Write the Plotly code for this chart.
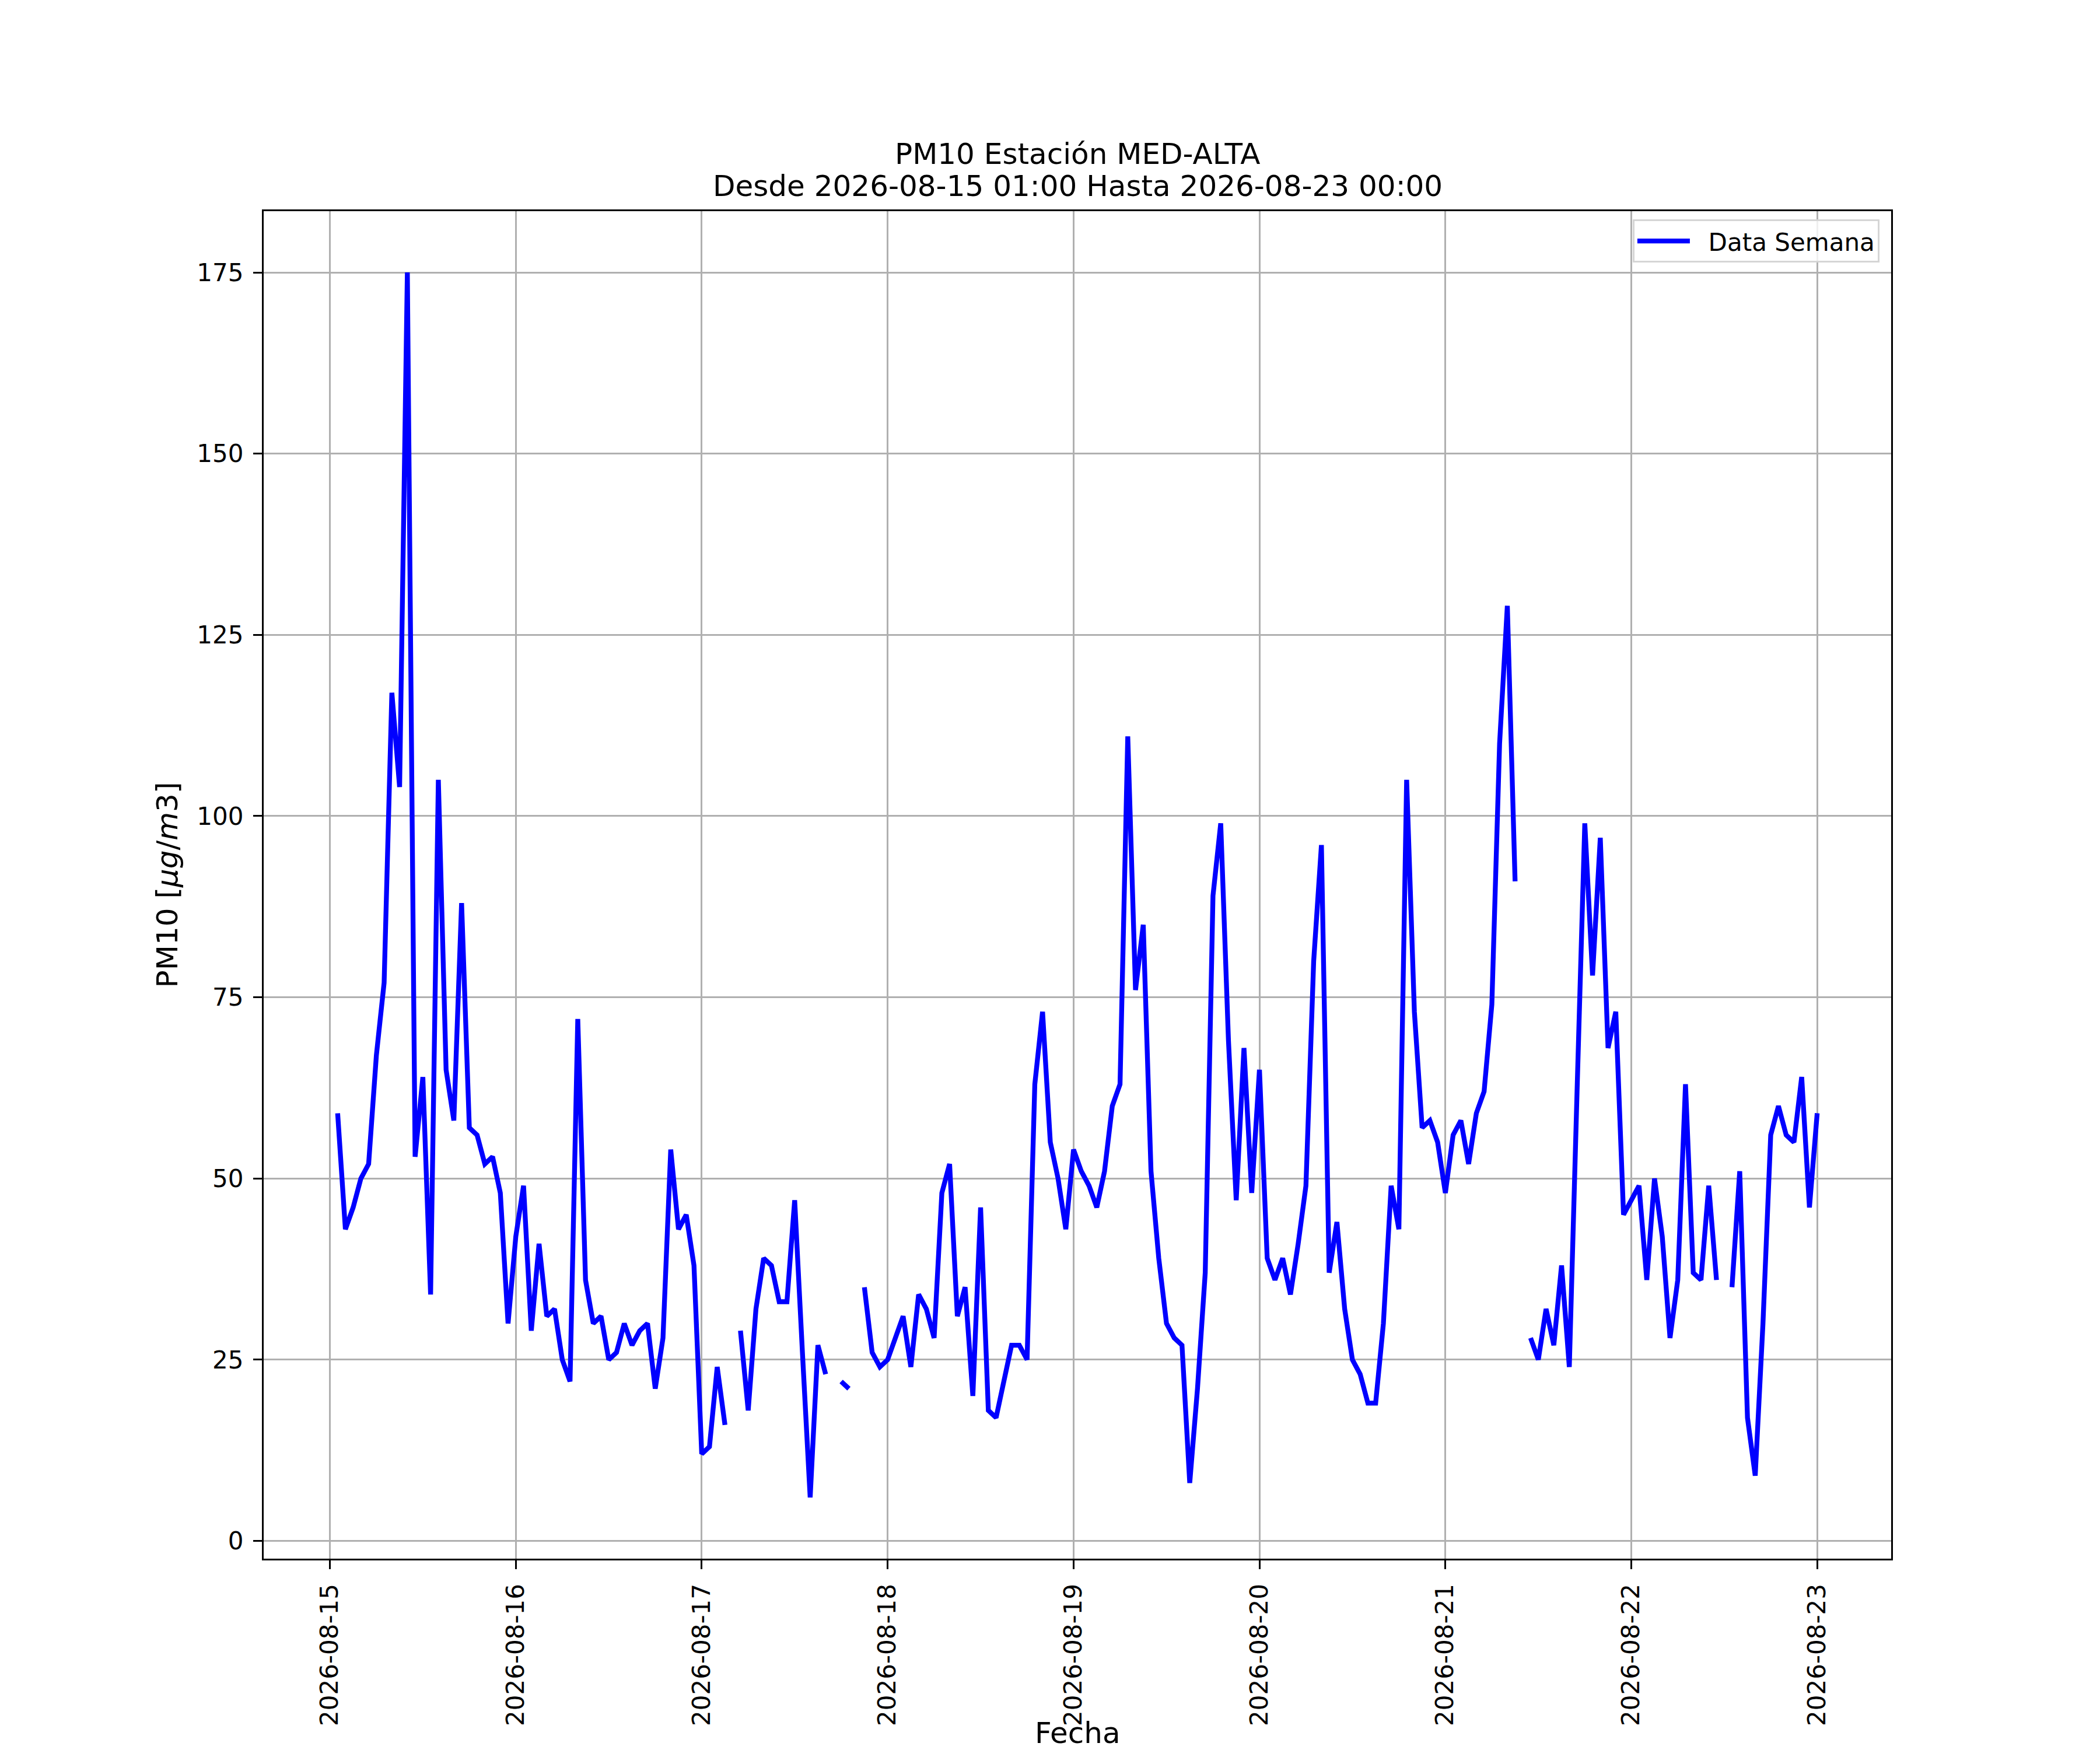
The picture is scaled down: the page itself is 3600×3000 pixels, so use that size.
import pandas as pd
import plotly.graph_objects as go

# Hourly PM10 values, 2026-08-15 01:00 .. 2026-08-23 00:00 (None = missing)
start_time = "2026-08-15 01:00"
pm10_values = [
    59, 43, 46, 50, 52, 67, 77, 117, 104, 175, 53, 64, 34, 105, 65, 58, 88, 57, 56, 52, 53, 48, 30, 42,
    49, 29, 41, 31, 32, 25, 22, 72, 36, 30, 31, 25, 26, 30, 27, 29, 30, 21, 28, 54, 43, 45, 38, 12,
    13, 24, 16, None, 29, 18, 32, 39, 38, 33, 33, 47, 26, 6, 27, 23, None, 22, 21, None, 35, 26, 24, 25,
    28, 31, 24, 34, 32, 28, 48, 52, 31, 35, 20, 46, 18, 17, 22, 27, 27, 25, 63, 73, 55, 50, 43, 54,
    51, 49, 46, 51, 60, 63, 111, 76, 85, 51, 39, 30, 28, 27, 8, 21, 37, 89, 99, 69, 47, 68, 48, 65,
    39, 36, 39, 34, 41, 49, 80, 96, 37, 44, 32, 25, 23, 19, 19, 30, 49, 43, 105, 73, 57, 58, 55, 48,
    56, 58, 52, 59, 62, 74, 110, 129, 91, None, 28, 25, 32, 27, 38, 24, 62, 99, 78, 97, 68, 73, 45, 47,
    49, 36, 50, 42, 28, 36, 63, 37, 36, 49, 36, None, 35, 51, 17, 9, 30, 56, 60, 56, 55, 64, 46, 59,
]
day_ticks = ["2026-08-15", "2026-08-16", "2026-08-17", "2026-08-18", "2026-08-19",
             "2026-08-20", "2026-08-21", "2026-08-22", "2026-08-23"]
y_ticks = [0, 25, 50, 75, 100, 125, 150, 175]
title_line1 = "PM10 Estación MED-ALTA"
title_line2 = "Desde 2026-08-15 01:00 Hasta 2026-08-23 00:00"
x_label = "Fecha"
y_label = "PM10 [<i>μg</i>/<i>m</i>3]"

times = pd.date_range(start_time, periods=len(pm10_values), freq="h")

# matplotlib-like 5% margins
t0, t1 = times[0], times[-1]
pad_t = (t1 - t0) * 0.05
xr = [(t0 - pad_t).strftime("%Y-%m-%d %H:%M:%S"), (t1 + pad_t).strftime("%Y-%m-%d %H:%M:%S")]
vals = [v for v in pm10_values if v is not None]
vmin, vmax = min(vals), max(vals)
pad_v = (vmax - vmin) * 0.05
yr = [vmin - pad_v, vmax + pad_v]

FONT = "DejaVu Sans"
W, H = 3600, 3000
L, R, T, B = 444, 366, 354, 336

fig = go.Figure()
fig.add_trace(go.Scatter(
    x=times, y=pm10_values, mode="lines", name="&nbsp;&nbsp;Data Semana",
    line=dict(color="#0000ff", width=8.3), connectgaps=False,
))

fig.update_layout(
    width=W, height=H, autosize=False,
    margin=dict(l=L, r=R, t=T, b=B),
    paper_bgcolor="white", plot_bgcolor="white",
    font=dict(family=FONT, size=42, color="black"),
    showlegend=True,
    legend=dict(
        x=0.9928, y=0.9938, xanchor="right", yanchor="top",
        bgcolor="rgba(255,255,255,0.8)", bordercolor="#d5d5d5", borderwidth=3,
        font=dict(family=FONT, size=42, color="black"),
        itemwidth=90,
    ),
    annotations=[
        dict(text=title_line1, x=0.5, xref="paper", xanchor="center",
             y=1, yref="paper", yanchor="bottom", yshift=67, showarrow=False,
             font=dict(family=FONT, size=50, color="black")),
        dict(text=title_line2, x=0.5, xref="paper", xanchor="center",
             y=1, yref="paper", yanchor="bottom", yshift=12, showarrow=False,
             font=dict(family=FONT, size=50, color="black")),
        dict(text=x_label, x=0.5, xref="paper", xanchor="center",
             y=0, yref="paper", yanchor="top", yshift=-268, showarrow=False,
             font=dict(family=FONT, size=50, color="black")),
    ],
)

fig.update_xaxes(
    type="date", range=xr,
    tickmode="array", tickvals=day_ticks, ticktext=day_ticks,
    tickangle=-90,
    ticks="outside", ticklen=15, tickwidth=3.3, tickcolor="black",
    ticklabelstandoff=8,
    tickfont=dict(family=FONT, size=42, color="black"),
    showgrid=True, gridcolor="#b0b0b0", gridwidth=3.3,
    showline=True, linecolor="black", linewidth=3.3, mirror=True,
    zeroline=False,
    automargin=False,
)
fig.update_yaxes(
    range=yr,
    tickmode="array", tickvals=y_ticks, ticktext=[str(v) for v in y_ticks],
    ticks="outside", ticklen=15, tickwidth=3.3, tickcolor="black",
    ticklabelstandoff=8,
    tickfont=dict(family=FONT, size=42, color="black"),
    showgrid=True, gridcolor="#b0b0b0", gridwidth=3.3,
    showline=True, linecolor="black", linewidth=3.3, mirror=True,
    zeroline=False,
    title=dict(text=y_label, font=dict(family=FONT, size=50, color="black"), standoff=17),
    automargin=False,
)

fig.write_html("out.html")
